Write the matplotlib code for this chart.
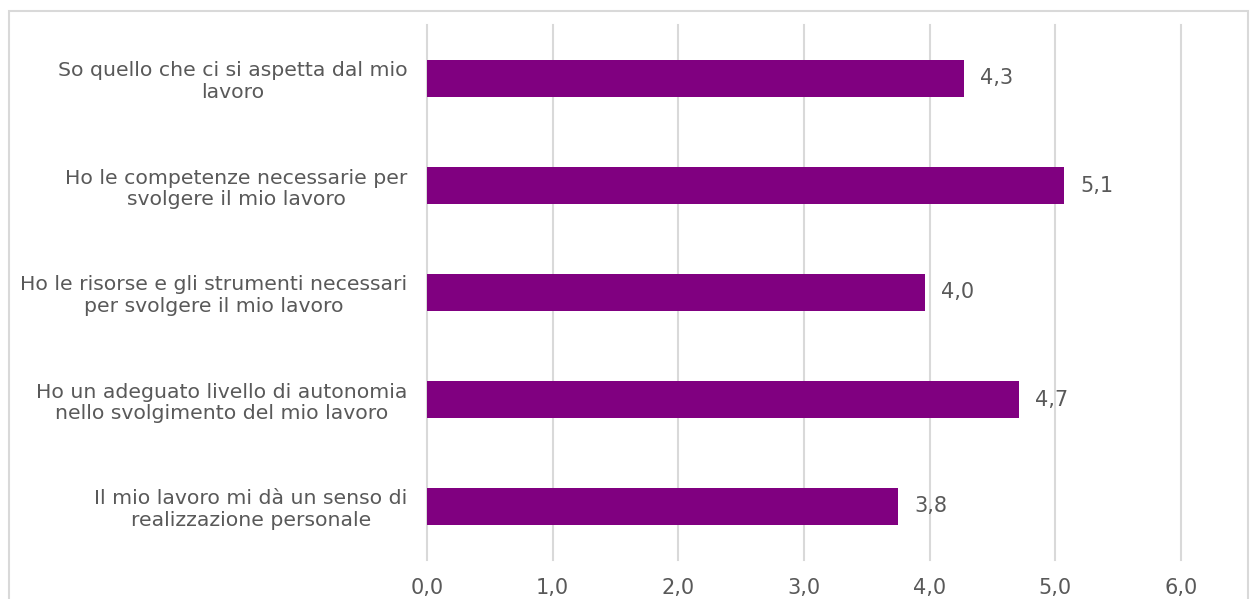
import matplotlib.pyplot as plt
from matplotlib.patches import Rectangle

# categories (top to bottom) and mean scores
categories = [
    'So quello che ci si aspetta dal mio\nlavoro',
    'Ho le competenze necessarie per\nsvolgere il mio lavoro',
    'Ho le risorse e gli strumenti necessari\nper svolgere il mio lavoro',
    'Ho un adeguato livello di autonomia\nnello svolgimento del mio lavoro',
    'Il mio lavoro mi dà un senso di\nrealizzazione personale',
]
values = [4.27, 5.07, 3.96, 4.71, 3.75]
xticks = [0, 1, 2, 3, 4, 5, 6]

text_col = '#595959'
grid_col = '#d9d9d9'
bar_col = '#800080'

fig = plt.figure(figsize=(12.51, 5.99), dpi=100)
W, H = 1251, 599
ax = fig.add_axes([427 / W, 1 - 560 / H, (1181 - 427) / W, (560 - 25) / H])

y = list(range(len(categories)))[::-1]
ax.barh(y, values, height=0.355, color=bar_col, zorder=3)

for yi, v in zip(y, values):
    ax.annotate(f'{v:.1f}'.replace('.', ','), (v, yi), xytext=(11.5, 0),
                textcoords='offset points', va='center', ha='left',
                fontsize=15, color=text_col)

ax.set_xlim(0, 6)
ax.set_ylim(-0.5, len(categories) - 0.5)
ax.set_xticks(xticks)
ax.set_xticklabels([f'{t:.1f}'.replace('.', ',') for t in xticks], fontsize=15)
ax.set_yticks(y)
ax.set_yticklabels(categories, multialignment='center', fontsize=14.7,
                   linespacing=1.18)
ax.tick_params(axis='both', length=0, labelcolor=text_col)
ax.tick_params(axis='y', pad=14)
ax.tick_params(axis='x', pad=13)
ax.grid(axis='x', color=grid_col, linewidth=1.5, zorder=0)
for gl in ax.get_xgridlines():
    gl.set_clip_on(False)
for s in ax.spines.values():
    s.set_visible(False)

# outer chart border
fig.add_artist(Rectangle((9 / W, -0.05), (1248 - 9) / W, 1.05 - 11 / H,
                         transform=fig.transFigure, fill=False,
                         edgecolor=grid_col, linewidth=1.5))

fig.savefig('out.png', dpi=100)
